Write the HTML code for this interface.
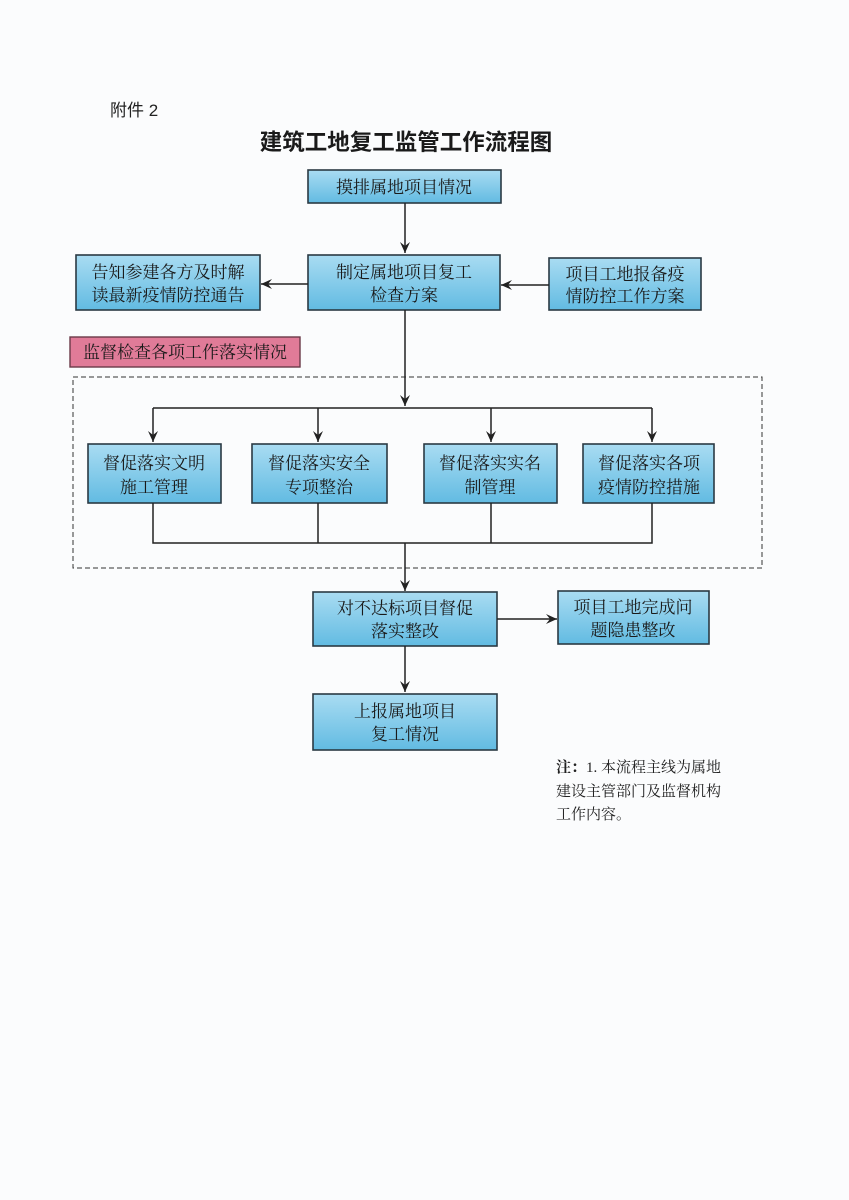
<!DOCTYPE html>
<html><head><meta charset="utf-8"><style>
html,body{margin:0;padding:0;background:#fbfcfd;}
svg{display:block}
.t{font-family:"Liberation Serif","Noto Serif CJK SC",serif;font-size:17px;fill:#1a1a1a;text-anchor:middle}
.b{fill:url(#g);stroke:#2a3a44;stroke-width:1.6}
.l{stroke:#222;stroke-width:1.5;fill:none}
</style></head><body>
<svg width="849" height="1200" viewBox="0 0 849 1200" xmlns="http://www.w3.org/2000/svg">
<defs>
<linearGradient id="g" x1="0" y1="0" x2="0" y2="1"><stop offset="0" stop-color="#a9dcf2"/><stop offset="1" stop-color="#62bbe2"/></linearGradient>
<marker id="a" markerWidth="12" markerHeight="10" refX="11" refY="5" orient="auto" markerUnits="userSpaceOnUse"><path d="M0,0 L11,5 L0,10 L4,5 Z" fill="#222"/></marker>
</defs>
<text x="110" y="116" style="font-family:'Liberation Sans','Noto Sans CJK SC',sans-serif;font-size:17px;fill:#222">附件 2</text>
<text x="406" y="150" style="font-family:'Liberation Sans','Noto Sans CJK SC',sans-serif;font-size:22.5px;fill:#1a1a1a;text-anchor:middle;font-weight:bold">建筑工地复工监管工作流程图</text>

<rect class="b" x="308" y="170" width="193" height="33"/>
<text class="t" x="404" y="193">摸排属地项目情况</text>
<line class="l" x1="405" y1="203" x2="405" y2="253" marker-end="url(#a)"/>

<rect class="b" x="308" y="255" width="192" height="55"/>
<text class="t" x="404" y="278">制定属地项目复工</text>
<text class="t" x="404" y="301">检查方案</text>

<rect class="b" x="76" y="255" width="184" height="55"/>
<text class="t" x="168" y="278">告知参建各方及时解</text>
<text class="t" x="168" y="301">读最新疫情防控通告</text>
<line class="l" x1="308" y1="284" x2="261" y2="284" marker-end="url(#a)"/>

<rect class="b" x="549" y="258" width="152" height="52"/>
<text class="t" x="625" y="280">项目工地报备疫</text>
<text class="t" x="625" y="302">情防控工作方案</text>
<line class="l" x1="549" y1="285" x2="501" y2="285" marker-end="url(#a)"/>

<rect x="70" y="337" width="230" height="30" fill="#e07b98" stroke="#6a3a48" stroke-width="1.4"/>
<text class="t" x="185" y="358">监督检查各项工作落实情况</text>

<rect x="73" y="377" width="689" height="191" fill="none" stroke="#333" stroke-width="1" stroke-dasharray="5,3"/>
<line class="l" x1="405" y1="310" x2="405" y2="406" marker-end="url(#a)"/>
<line class="l" x1="153" y1="408" x2="652" y2="408"/>
<line class="l" x1="153" y1="408" x2="153" y2="442" marker-end="url(#a)"/>
<line class="l" x1="318" y1="408" x2="318" y2="442" marker-end="url(#a)"/>
<line class="l" x1="491" y1="408" x2="491" y2="442" marker-end="url(#a)"/>
<line class="l" x1="652" y1="408" x2="652" y2="442" marker-end="url(#a)"/>

<rect class="b" x="88" y="444" width="133" height="59"/>
<text class="t" x="154" y="469">督促落实文明</text><text class="t" x="154" y="493">施工管理</text>
<rect class="b" x="252" y="444" width="135" height="59"/>
<text class="t" x="319" y="469">督促落实安全</text><text class="t" x="319" y="493">专项整治</text>
<rect class="b" x="424" y="444" width="133" height="59"/>
<text class="t" x="490" y="469">督促落实实名</text><text class="t" x="490" y="493">制管理</text>
<rect class="b" x="583" y="444" width="131" height="59"/>
<text class="t" x="649" y="469">督促落实各项</text><text class="t" x="649" y="493">疫情防控措施</text>

<path class="l" d="M153,503 V543 H652 V503 M318,503 V543 M491,503 V543"/>
<line class="l" x1="405" y1="543" x2="405" y2="591" marker-end="url(#a)"/>

<rect class="b" x="313" y="592" width="184" height="54"/>
<text class="t" x="405" y="614">对不达标项目督促</text>
<text class="t" x="405" y="637">落实整改</text>
<line class="l" x1="497" y1="619" x2="557" y2="619" marker-end="url(#a)"/>
<rect class="b" x="558" y="591" width="151" height="53"/>
<text class="t" x="633" y="613">项目工地完成问</text>
<text class="t" x="633" y="636">题隐患整改</text>

<line class="l" x1="405" y1="646" x2="405" y2="692" marker-end="url(#a)"/>
<rect class="b" x="313" y="694" width="184" height="56"/>
<text class="t" x="405" y="717">上报属地项目</text>
<text class="t" x="405" y="740">复工情况</text>

<g style="font-family:'Liberation Serif','Noto Serif CJK SC',serif;font-size:15px;fill:#222">
<text x="556" y="772"><tspan font-weight="bold">注：</tspan>1. 本流程主线为属地</text>
<text x="556" y="796">建设主管部门及监督机构</text>
<text x="556" y="819">工作内容。</text>
</g>
</svg>
</body></html>
